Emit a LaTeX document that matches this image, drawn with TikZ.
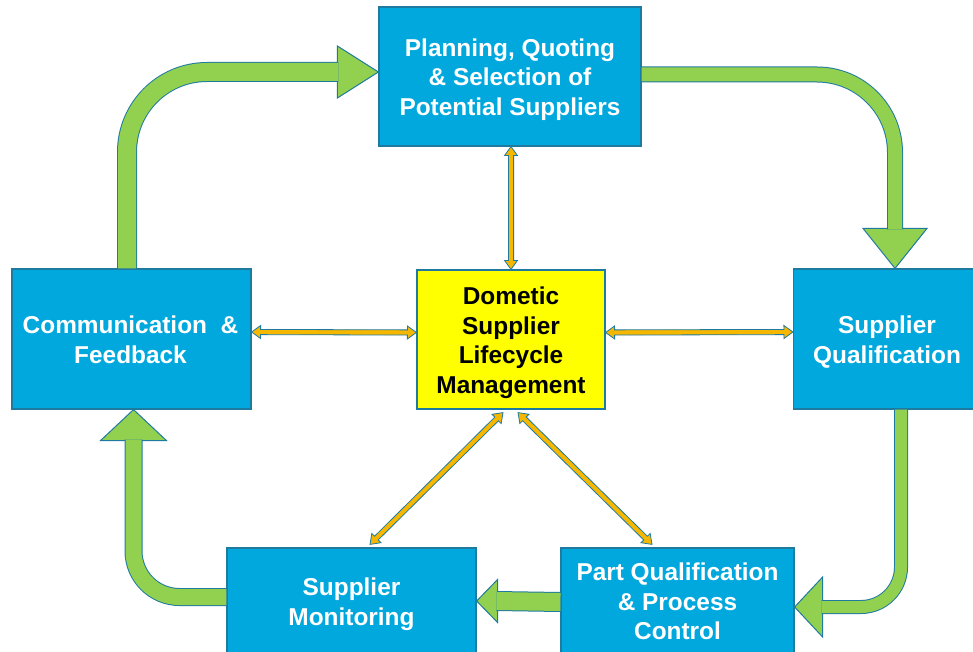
\documentclass[tikz,border=0pt]{standalone}
\usepackage{fontspec}
\setmainfont{Liberation Sans}
\usetikzlibrary{calc}
\definecolor{boxc}{RGB}{0,168,222}
\definecolor{bordc}{RGB}{31,122,160}
\definecolor{greenc}{RGB}{146,208,80}
\definecolor{goldc}{RGB}{245,183,0}
\definecolor{yelc}{RGB}{255,255,0}
\newcommand\dblarrow[2]{%
  \path (#1) coordinate (dA) (#2) coordinate (dB);
  \filldraw[dblstyle]
    (dA) -- ($(dA)!9pt!(dB)!6.5pt!90:(dB)$) -- ($(dA)!9pt!(dB)!2.6pt!90:(dB)$)
    -- ($(dB)!9pt!(dA)!2.6pt!-90:(dA)$) -- ($(dB)!9pt!(dA)!6.5pt!-90:(dA)$)
    -- (dB) -- ($(dB)!9pt!(dA)!6.5pt!90:(dA)$) -- ($(dB)!9pt!(dA)!2.6pt!90:(dA)$)
    -- ($(dA)!9pt!(dB)!2.6pt!-90:(dB)$) -- ($(dA)!9pt!(dB)!6.5pt!-90:(dB)$) -- cycle;
}
\tikzset{
  bluebox/.style={draw=bordc, fill=boxc, line width=1.2pt, inner sep=0pt},
  yelbox/.style={bluebox, fill=yelc},
  txt/.style={text=white, font=\bfseries\fontsize{24.4}{29.5}\selectfont,
    align=center, inner sep=0pt},
  ytxt/.style={txt, text=black},
  dblstyle/.style={fill=goldc, draw=bordc, line width=0.8pt, line join=miter},
  ghead/.style={fill=greenc, draw=bordc, line width=1pt, line join=miter},
  gshaft/.style={draw=bordc, line width=1pt, double=greenc},
}
\begin{document}
\begin{tikzpicture}[x=1pt, y=-1pt]
\useasboundingbox (0,0) rectangle (973,652);
% boxes
\node[bluebox, minimum width=262pt, minimum height=139pt] (plan) at (510,76.5) {};
\node[bluebox, minimum width=239pt, minimum height=140pt] (comm) at (131.5,339) {};
\node[yelbox, minimum width=188pt, minimum height=139pt] (dsl) at (511,339.5) {};
\node[bluebox, minimum width=187pt, minimum height=140pt] (squal) at (887,339) {};
\node[bluebox, minimum width=249pt, minimum height=108pt] (mon) at (351.5,602) {};
\node[bluebox, minimum width=233pt, minimum height=106pt] (pqc) at (677.5,601) {};
% texts
\node[txt] (planT) at ($(plan.center)+(0,2.7)$)
  {Planning, Quoting\\\& Selection of\\Potential Suppliers};
\node[txt] (commT) at ($(comm.center)+(-1,1)$) {Communication\ \ \&\\Feedback};
\node[ytxt] (dslT) at ($(dsl.center)+(0,3)$) {Dometic\\Supplier\\Lifecycle\\Management};
\node[txt] (squalT) at ($(squal.center)+(0,3)$) {Supplier\\Qualification};
\node[txt] (monT) at ($(mon.center)+(0,2)$) {Supplier\\Monitoring};
\node[txt] (pqcT) at ($(pqc.center)+(0,0.5)$) {Part Qualification\\\& Process\\Control};
% tip coordinates of the green arrows
\coordinate (t1) at ($(plan.west)+(0,-4.5)$);
\coordinate (t2) at ($(squal.north)+(8,0)$);
\coordinate (t3) at ($(pqc.east)+(0,6)$);
\coordinate (t4) at ($(mon.east)+(0,-1)$);
\coordinate (t5) at ($(comm.south)+(2,0)$);
% heads
\filldraw[ghead] (t1) -- ++(-41,-26) -- ++(0,52) -- cycle;
\filldraw[ghead] (t2) -- ++(-32,-40) -- ++(64,0) -- cycle;
\filldraw[ghead] (t3) -- ++(28,-30) -- ++(0,60) -- cycle;
\filldraw[ghead] (t4) -- ++(21,-21.5) -- ++(0,43) -- cycle;
\filldraw[ghead] (t5) -- ++(-33,31) -- ++(66,0) -- cycle;
% shafts
\draw[gshaft, double distance=18pt, rounded corners=80pt]
  ($(comm.north)+(-4.5,0)$) |- ($(t1)+(-40,0)$);
\draw[gshaft, double distance=14pt, rounded corners=78pt]
  ($(plan.east)+(0,-2)$) -| ($(t2)+(0,-39)$);
\draw[gshaft, double distance=12pt, rounded corners=40pt]
  ($(squal.south)+(14,0)$) |- ($(t3)+(27,0)$);
\draw[gshaft, double distance=18pt]
  ($(pqc.west)+(0,1)$) -- ($(t4)+(20,0)$);
\draw[gshaft, double distance=16pt, rounded corners=46pt]
  ($(mon.west)+(0,-5)$) -| ($(t5)+(0,30)$);
% centre connectors
\dblarrow{plan.south -| dsl.north}{dsl.north}
\dblarrow{$(comm.east)+(0,-7)$}{$(dsl.west)+(0,-7)$}
\dblarrow{$(dsl.east)+(0,-7)$}{$(squal.west)+(0,-7)$}
\dblarrow{$(dsl.south)+(-8,3)$}{$(mon.north)+(18.5,-3)$}
\dblarrow{$(dsl.south)+(7,3)$}{$(pqc.north)+(-25.5,-3)$}
\end{tikzpicture}
\end{document}
